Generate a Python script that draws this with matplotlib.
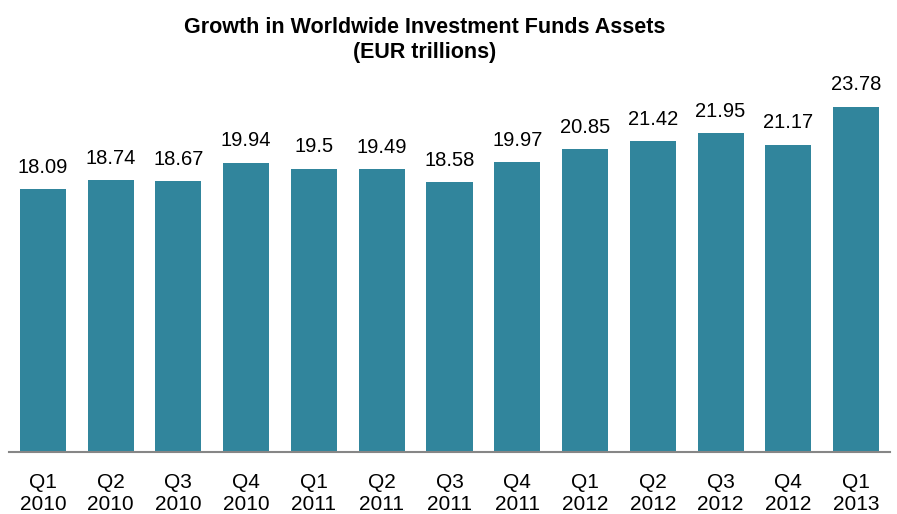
import matplotlib
matplotlib.use("Agg")
from matplotlib import pyplot as plt
import numpy as np

# Data
quarters = ["Q1", "Q2", "Q3", "Q4", "Q1", "Q2", "Q3", "Q4", "Q1", "Q2", "Q3", "Q4", "Q1"]
years = ["2010"] * 4 + ["2011"] * 4 + ["2012"] * 4 + ["2013"]
assets = [18.09, 18.74, 18.67, 19.94, 19.5, 19.49, 18.58, 19.97, 20.85, 21.42, 21.95, 21.17, 23.78]

BAR_COLOR = "#31859C"
plt.rcParams['font.family'] = ['Liberation Sans', 'DejaVu Sans']

fig = plt.figure(figsize=(8.97, 5.14), dpi=100)
ax = fig.add_axes([9 / 897, 1 - 452 / 514, 881 / 897, 365 / 514])

x = np.arange(len(assets))
bars = ax.bar(x, assets, width=0.68, color=BAR_COLOR, zorder=2)

# value labels above bars
for xi, v in zip(x, assets):
    ax.annotate(f"{v:g}", (xi, v), xytext=(0, 9), textcoords="offset points",
                ha="center", va="bottom", fontsize=14.5, color="#000000")

ax.set_xlim(-0.5, len(assets) - 0.5)
ax.set_ylim(0, 25.15)
ax.set_yticks([])
ax.set_xticks(x)
ax.set_xticklabels([f"{q}\n{y}" for q, y in zip(quarters, years)],
                   fontsize=15, linespacing=1.2)
ax.tick_params(axis="x", length=0, pad=15)

for s in ["top", "left", "right"]:
    ax.spines[s].set_visible(False)
ax.spines["bottom"].set_color("#868686")
ax.spines["bottom"].set_linewidth(1.5)

fig.text(425 / 897, 1 - 40 / 514, "Growth in Worldwide Investment Funds Assets\n(EUR trillions)",
         ha="center", va="center", fontsize=15.5, fontweight="bold", linespacing=1.28)

fig.savefig("out.png", dpi=100)
